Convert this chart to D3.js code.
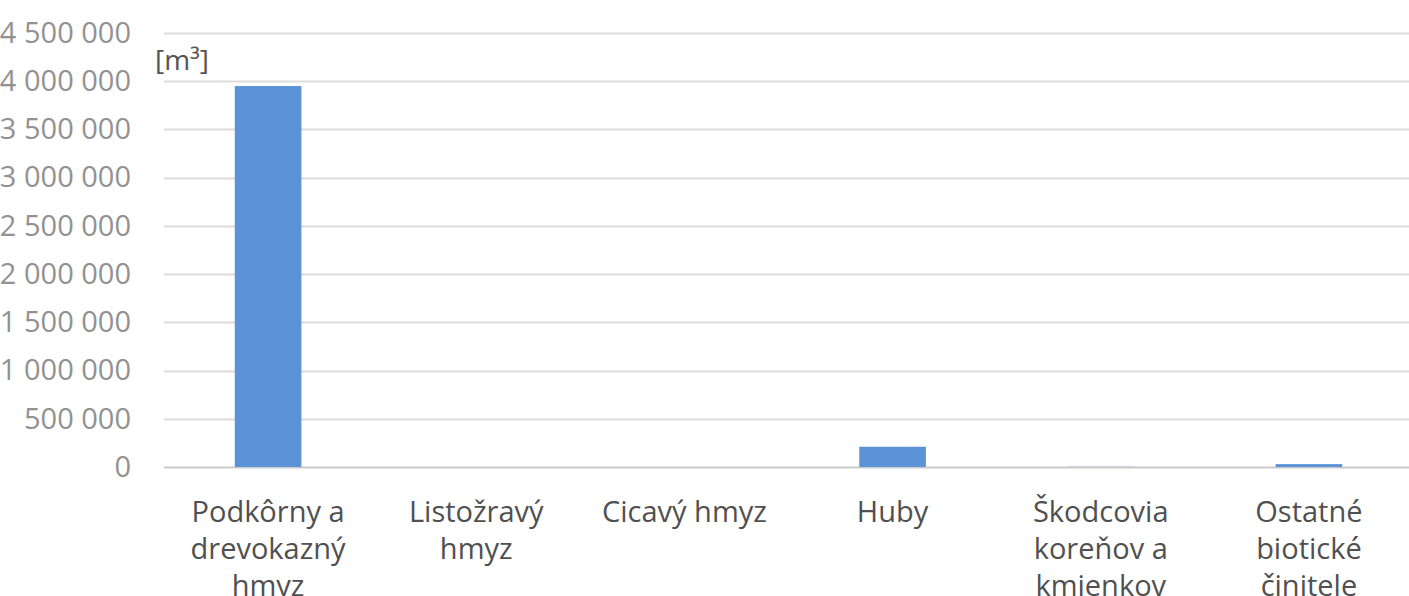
<!DOCTYPE html>
<html>
<head>
<meta charset="utf-8">
<script src="https://d3js.org/d3.v7.min.js"></script>
<style>
  body { margin: 0; background: #fff; }
  svg { display: block; }
</style>
</head>
<body>
<script>
// data
var categories = [
  ["Podkôrny a", "drevokazný", "hmyz"],
  ["Listožravý", "hmyz"],
  ["Cicavý hmyz"],
  ["Huby"],
  ["Škodcovia", "koreňov a", "kmienkov"],
  ["Ostatné", "biotické", "činitele"]
];
var values = [3950000, 0, 0, 210000, 2000, 30000];
var yTicks = [0, 500000, 1000000, 1500000, 2000000, 2500000, 3000000, 3500000, 4000000, 4500000];
var unitLabel = "[m³]";

var width = 1409, height = 596;

var svg = d3.select("body").append("svg")
  .attr("width", width)
  .attr("height", height);

// x band: plot spans past right edge (picture is cropped)
var x = d3.scaleBand()
  .domain(d3.range(categories.length))
  .range([164, 1413])
  .paddingInner(0.68)
  .paddingOuter(0.34);

var y = d3.scaleLinear()
  .domain([0, 4500000])
  .range([467, 33]);

var locale = d3.formatLocale({ decimal: ",", thousands: " ", grouping: [3], currency: ["", " €"] });
var fmt = locale.format(",d");

// gridlines
svg.append("g")
  .selectAll("line")
  .data(yTicks)
  .enter().append("line")
  .attr("x1", 164)
  .attr("x2", width)
  .attr("y1", function(d) { return Math.round(y(d)) + 0.5; })
  .attr("y2", function(d) { return Math.round(y(d)) + 0.5; })
  .attr("stroke", function(d) { return d === 0 ? "#cacaca" : "#dcdcdc"; })
  .attr("stroke-width", 2);

// y axis labels
var yAxis = d3.axisLeft(y)
  .tickValues(yTicks)
  .tickFormat(fmt)
  .tickSize(0)
  .tickPadding(0);

var gy = svg.append("g")
  .attr("transform", "translate(131,0)")
  .call(yAxis);
gy.select(".domain").remove();
gy.selectAll("text")
  .attr("font-family", "Open Sans")
  .attr("font-size", 29)
  .attr("fill", "#929292");

// unit
svg.append("text")
  .attr("x", 155)
  .attr("y", 70)
  .attr("font-family", "Open Sans")
  .attr("font-size", 28)
  .attr("fill", "#555")
  .text(unitLabel);

// bars
svg.append("g")
  .selectAll("rect")
  .data(values)
  .enter().append("rect")
  .attr("x", function(d, i) { return x(i); })
  .attr("width", x.bandwidth())
  .attr("y", function(d) { return y(d); })
  .attr("height", function(d) { return y(0) - y(d); })
  .attr("fill", "#5b93d6");

// category labels
var lab = svg.append("g")
  .selectAll("text")
  .data(categories)
  .enter().append("text")
  .attr("x", function(d, i) { return x(i) + x.bandwidth() / 2; })
  .attr("y", 522)
  .attr("text-anchor", "middle")
  .attr("font-family", "Open Sans")
  .attr("font-size", 29)
  .attr("fill", "#505050");

lab.selectAll("tspan")
  .data(function(d) { return d; })
  .enter().append("tspan")
  .attr("x", function() { return d3.select(this.parentNode).attr("x"); })
  .attr("dy", function(d, i) { return i === 0 ? 0 : 37; })
  .text(function(d) { return d; });
</script>
</body>
</html>
